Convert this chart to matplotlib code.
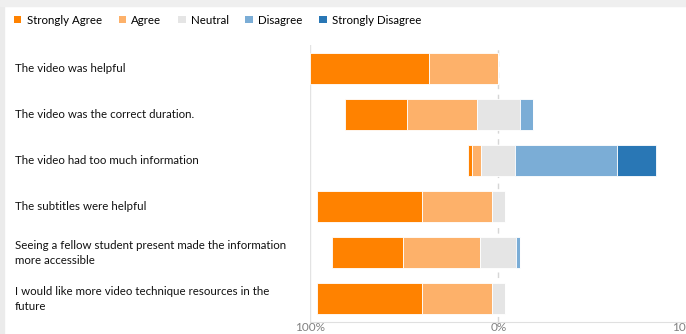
import matplotlib.pyplot as plt
import matplotlib.transforms as mtransforms
from matplotlib.patches import Patch, Rectangle
import numpy as np

plt.rcParams['font.family'] = ['Lato', 'DejaVu Sans']

questions = [
    "The video was helpful",
    "The video was the correct duration.",
    "The video had too much information",
    "The subtitles were helpful",
    "Seeing a fellow student present made the information\nmore accessible",
    "I would like more video technique resources in the\nfuture",
]
categories = ["Strongly Agree", "Agree", "Neutral", "Disagree", "Strongly Disagree"]
colors = ["#ff8200", "#fdb16a", "#e5e5e5", "#7badd6", "#2977b5"]

# percent of responses per question
strongly_agree = [63, 33, 2, 56, 38, 56]
agree = [37, 37, 5, 37, 41, 37]
neutral = [0, 23, 18, 7, 19, 7]
disagree = [0, 7, 54, 0, 2, 0]
strongly_disagree = [0, 0, 21, 0, 0, 0]

data = np.array([strongly_agree, agree, neutral, disagree, strongly_disagree], dtype=float)

fig = plt.figure(figsize=(6.86, 3.34), dpi=100)
# screenshot border bits
fig.patches.append(Rectangle((0, 0), 4 / 686, 1, transform=fig.transFigure, color="#ebebeb", zorder=0))
fig.patches.append(Rectangle((0, 1 - 6 / 334), 1, 6 / 334, transform=fig.transFigure, color="#efefef", zorder=0))

ax = fig.add_axes([310 / 686, 0.0365, 376.6 / 686, 0.8273])

y = np.arange(len(questions))
# neutral is split evenly around zero
left = -(data[0] + data[1] + data[2] / 2)
for vals, c in zip(data, colors):
    ax.barh(y, vals, left=left, height=0.667, color=c, edgecolor="white", linewidth=0.6, zorder=2)
    left = left + vals

ax.set_xlim(-100, 100)
ax.set_ylim(len(questions) - 0.5, -0.5)
ax.axvline(-100, color="#e3e3e3", lw=1, zorder=1)
ax.axvline(0, color="#d6d6d6", lw=1, ls=(0, (4, 4)), zorder=1)

for s in ["top", "left", "right"]:
    ax.spines[s].set_visible(False)
ax.spines["bottom"].set_color("#e0e0e0")
ax.set_xticks([-100, 0, 100])
ax.set_xticklabels(["100%", "0%", "100%"])
ax.tick_params(axis="x", length=0, pad=0, labelsize=8.5, labelcolor="#808080")
ax.set_yticks([])

# question labels: figure x, data y
trans = mtransforms.blended_transform_factory(fig.transFigure, ax.transData)
for yi, q in zip(y, questions):
    ax.text(15 / 686, yi, q, transform=trans, fontsize=8.3, va="center", ha="left",
            color="#111111", linespacing=1.4, clip_on=False)

handles = [Patch(facecolor=c, edgecolor="none") for c in colors]
fig.legend(handles, categories, loc="center left", bbox_to_anchor=(14 / 686, 1 - 20 / 334),
           ncol=5, frameon=False, fontsize=8.3, handlelength=0.65, handleheight=0.65,
           handletextpad=0.45, columnspacing=1.45, borderpad=0, borderaxespad=0)

fig.savefig("out.png", dpi=100)
